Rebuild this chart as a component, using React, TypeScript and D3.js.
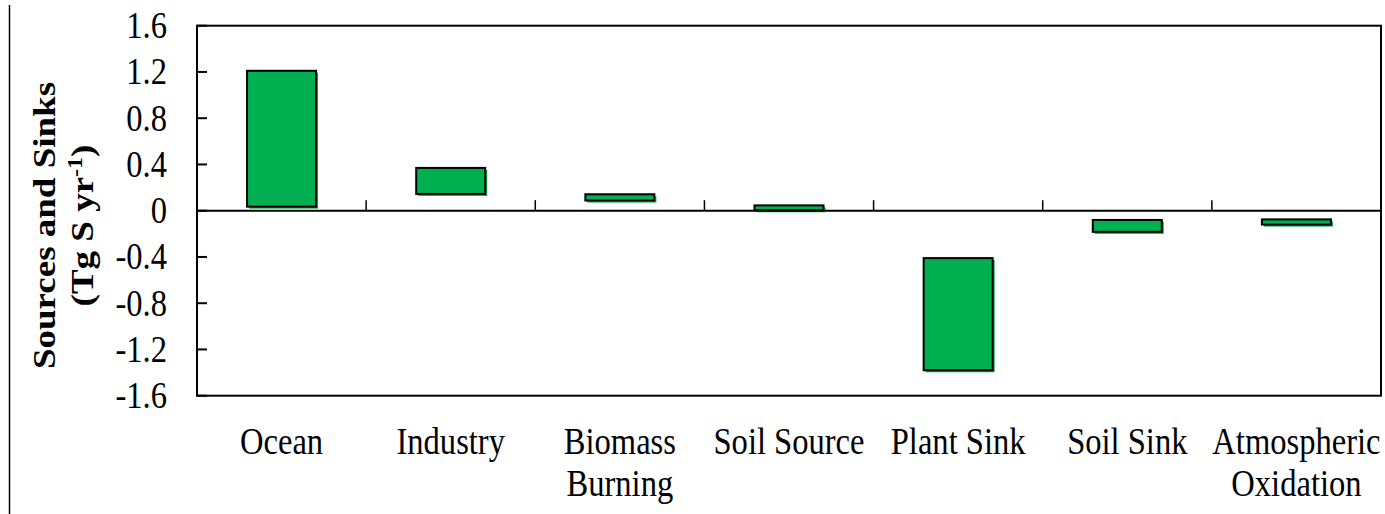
import React from "react";
import * as d3 from "d3";

const categories: string[][] = [
  ["Ocean"],
  ["Industry"],
  ["Biomass", "Burning"],
  ["Soil Source"],
  ["Plant Sink"],
  ["Soil Sink"],
  ["Atmospheric", "Oxidation"],
];
const lowValues = [0.035, 0.145, 0.088, 0.004, -1.38, -0.183, -0.12];
const highValues = [1.21, 0.37, 0.142, 0.046, -0.41, -0.08, -0.075];
const yTicks = [1.6, 1.2, 0.8, 0.4, 0, -0.4, -0.8, -1.2, -1.6];
const yTickLabels = ["1.6", "1.2", "0.8", "0.4", "0", "-0.4", "-0.8", "-1.2", "-1.6"];

const W = 1385;
const H = 514;
const left = 197;
const right = 1381;
const top = 25.7;
const bottom = 395.7;
const SX = 0.88;
const FONT = "'Liberation Serif', 'Times New Roman', serif";
const GREEN = "#00B050";

export default function App() {
  const x = d3
    .scaleBand<number>()
    .domain(d3.range(categories.length))
    .range([left, right])
    .padding(0);
  const y = d3.scaleLinear().domain([-1.6, 1.6]).range([bottom, top]);
  const bw = x.bandwidth() * 0.408;
  const y0 = y(0);

  return (
    <svg
      width={W}
      height={H}
      style={{ position: "absolute", left: 0, top: 0, background: "#fff" }}
    >
      <line x1={9.5} x2={9.5} y1={5} y2={H} stroke="#000" strokeWidth={1.5} />

      {/* bars */}
      {categories.map((_, i) => {
        const cx = (x(i) as number) + x.bandwidth() / 2;
        const yt = y(highValues[i]);
        const yb = y(lowValues[i]);
        return (
          <g key={i}>
            <rect x={cx - bw / 2 + 2} y={yt + 2} width={bw} height={yb - yt} fill={GREEN} />
            <rect
              x={cx - bw / 2}
              y={yt}
              width={bw}
              height={yb - yt}
              fill={GREEN}
              stroke="#000"
              strokeWidth={2}
            />
          </g>
        );
      })}

      {/* plot border */}
      <rect x={left} y={top} width={right - left} height={bottom - top} fill="none" stroke="#000" strokeWidth={2} />

      {/* zero line */}
      <line x1={left} x2={right} y1={y0} y2={y0} stroke="#000" strokeWidth={2} />

      {/* x ticks at category boundaries */}
      {categories.slice(1).map((_, i) => {
        const bx = x(i + 1) as number;
        return <line key={i} x1={bx} x2={bx} y1={y0} y2={y0 - 10.5} stroke="#000" strokeWidth={1.5} />;
      })}

      {/* y ticks and labels */}
      {yTicks.map((t, i) => (
        <g key={i}>
          <line x1={left} x2={left + 10} y1={y(t)} y2={y(t)} stroke="#000" strokeWidth={2} />
          <text
            transform={`translate(167,${y(t) + 12.5}) scale(${SX},1)`}
            textAnchor="end"
            fontFamily={FONT}
            fontSize={37}
            fill="#000"
          >
            {yTickLabels[i]}
          </text>
        </g>
      ))}

      {/* category labels */}
      {categories.map((lines, i) => {
        const cx = (x(i) as number) + x.bandwidth() / 2;
        return lines.map((ln, j) => (
          <text
            key={`${i}-${j}`}
            transform={`translate(${cx},${454 + j * 42}) scale(${SX},1)`}
            textAnchor="middle"
            fontFamily={FONT}
            fontSize={37}
            fill="#000"
          >
            {ln}
          </text>
        ));
      })}

      {/* y axis title */}
      <text
        transform={`translate(55,225.5) scale(${SX},1) rotate(-90)`}
        textAnchor="middle"
        fontFamily={FONT}
        fontSize={37}
        fontWeight="bold"
        fill="#000"
      >
        Sources and Sinks
      </text>
      <text
        transform={`translate(93,225.5) scale(${SX},1) rotate(-90)`}
        textAnchor="middle"
        fontFamily={FONT}
        fontSize={37}
        fontWeight="bold"
        fill="#000"
      >
        (Tg S yr
        <tspan fontSize={24} dy={-13}>-1</tspan>
        <tspan dy={13}>)</tspan>
      </text>
    </svg>
  );
}
